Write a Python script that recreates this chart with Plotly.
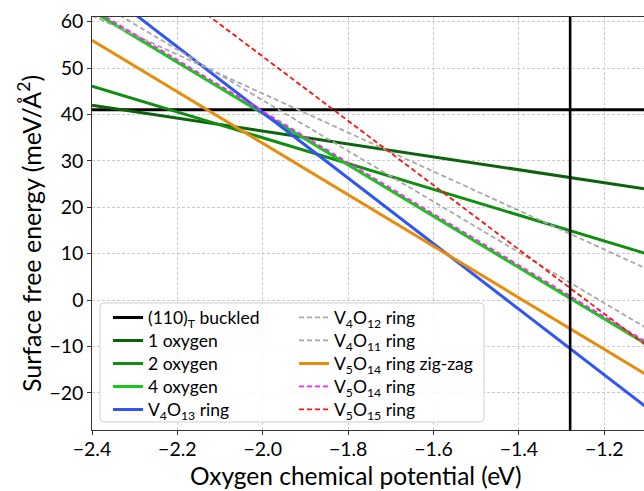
import plotly.graph_objects as go

# Oxygen chemical potential endpoints (eV)
mu = [-2.4, -1.1]

# Surface free energy (meV/Å^2) at the endpoints of mu
buckled = [41.0, 41.0]
oxy1 = [42.0, 23.9]
oxy2 = [46.1, 9.95]
oxy4 = [62.3, -9.6]
v4o13 = [68.7, -23.2]
v4o12 = [61.3, 6.7]
v4o11 = [64.9, -6.1]
v5o14_zz = [56.0, -16.15]
v5o14 = [62.8, -9.1]
v5o15 = [80.2, -9.9]

mu_vertical = -1.28

x_range = [-2.4, -1.107]
y_range = [-28.0, 61.0]
x_ticks = [-2.4, -2.2, -2.0, -1.8, -1.6, -1.4, -1.2]
y_ticks = [-20, -10, 0, 10, 20, 30, 40, 50, 60]

x_title = "Oxygen chemical potential (eV)"
y_title = "Surface free energy (meV/Å<sup>2</sup>)"

FONT = "Lato"

series = [
    # name, values, color, width, dash, column, row
    ("(110)<sub>T</sub> buckled", buckled, "#000000", 3.0, "solid", 0, 0),
    ("1 oxygen", oxy1, "#0b640b", 3.0, "solid", 0, 1),
    ("2 oxygen", oxy2, "#0f8f0f", 3.0, "solid", 0, 2),
    ("4 oxygen", oxy4, "#18c818", 3.0, "solid", 0, 3),
    ("V<sub>4</sub>O<sub>13</sub> ring", v4o13, "#2f55f5", 3.0, "solid", 0, 4),
    ("V<sub>4</sub>O<sub>12</sub> ring", v4o12, "#a8a8a8", 1.8, "5px,3px", 1, 0),
    ("V<sub>4</sub>O<sub>11</sub> ring", v4o11, "#a8a8a8", 1.8, "5px,3px", 1, 1),
    ("V<sub>5</sub>O<sub>14</sub> ring zig-zag", v5o14_zz, "#e88c0c", 3.0, "solid", 1, 2),
    ("V<sub>5</sub>O<sub>14</sub> ring", v5o14, "#ff22ff", 1.8, "5px,3px", 1, 3),
    ("V<sub>5</sub>O<sub>15</sub> ring", v5o15, "#ff1010", 1.8, "5px,3px", 1, 4),
]

L, R, T, B = 92, 0, 17, 61
W, H = 644, 491
pw, ph = W - L - R, H - T - B


def px_to_paper_x(px):
    return (px - L) / pw


def px_to_paper_y(py):
    return 1 - (py - T) / ph


legend_col_px = [108, 294]
legend_row_px = [317.5, 340.5, 363.5, 386.5, 409.5]

fig = go.Figure()
layout_legends = {}
for i, (name, vals, color, width, dash, col, row) in enumerate(series):
    key = "legend" if i == 0 else f"legend{i+1}"
    fig.add_trace(go.Scatter(
        x=mu, y=vals, mode="lines", name=name,
        line=dict(color=color, width=width, dash=dash),
        legend=key, hoverinfo="skip",
    ))
    layout_legends[key] = dict(
        x=px_to_paper_x(legend_col_px[col]), y=px_to_paper_y(legend_row_px[row]),
        xanchor="left", yanchor="middle",
        bgcolor="rgba(0,0,0,0)", borderwidth=0,
        font=dict(family=FONT, size=17.5, color="#000000"),
        itemwidth=30,
    )

# vertical reference line
fig.add_trace(go.Scatter(
    x=[mu_vertical, mu_vertical], y=y_range, mode="lines",
    line=dict(color="#000000", width=2.6), showlegend=False, hoverinfo="skip",
))

# legend frame (rounded box)
bx0, bx1, by0, by1 = px_to_paper_x(100), px_to_paper_x(484), px_to_paper_y(422), px_to_paper_y(303)
rx, ry = 4 / pw, 4 / ph
path = (
    f"M {bx0+rx},{by0} L {bx1-rx},{by0} Q {bx1},{by0} {bx1},{by0+ry} "
    f"L {bx1},{by1-ry} Q {bx1},{by1} {bx1-rx},{by1} "
    f"L {bx0+rx},{by1} Q {bx0},{by1} {bx0},{by1-ry} "
    f"L {bx0},{by0+ry} Q {bx0},{by0} {bx0+rx},{by0} Z"
)
fig.add_shape(type="path", path=path, xref="paper", yref="paper",
              fillcolor="rgba(255,255,255,0.85)", line=dict(color="#d0d0d0", width=1),
              layer="above")

# axis titles (placed as annotations to match the reference position)
fig.add_annotation(text=x_title, xref="paper", yref="paper",
                   x=px_to_paper_x(356), y=px_to_paper_y(491), xanchor="center", yanchor="bottom",
                   showarrow=False, borderpad=0, font=dict(family=FONT, size=24.5, color="#000000"))
fig.add_annotation(text=y_title, xref="paper", yref="paper", textangle=-90,
                   x=px_to_paper_x(29), y=px_to_paper_y(234), xanchor="center", yanchor="middle",
                   showarrow=False, font=dict(family=FONT, size=25, color="#000000"))

fig.update_layout(
    width=W, height=H,
    margin=dict(l=L, r=R, t=T, b=B, autoexpand=False),
    plot_bgcolor="#ffffff", paper_bgcolor="#ffffff",
    font=dict(family=FONT, color="#000000"),
    xaxis=dict(
        range=x_range, tickvals=x_ticks, tickformat=".1f", automargin=False,
        showgrid=True, gridcolor="#cccccc", gridwidth=0.8, griddash="3px,2px",
        showline=True, linecolor="#333333", linewidth=1.3, mirror=True,
        ticks="outside", ticklen=3.5, tickcolor="#333333", tickwidth=1.2,
        ticklabelstandoff=-2,
        tickfont=dict(family=FONT, size=19.5, color="#000000"),
        zeroline=False,
    ),
    yaxis=dict(
        range=y_range, tickvals=y_ticks, automargin=False,
        showgrid=True, gridcolor="#cccccc", gridwidth=0.8, griddash="3px,2px",
        showline=True, linecolor="#333333", linewidth=1.3, mirror=False,
        ticks="outside", ticklen=3.5, tickcolor="#333333", tickwidth=1.2,
        tickfont=dict(family=FONT, size=19.5, color="#000000"),
        zeroline=False,
    ),
    **layout_legends,
)

fig.write_html("out.html", config={"displayModeBar": False},
               post_script="document.body.style.margin='0px';")
